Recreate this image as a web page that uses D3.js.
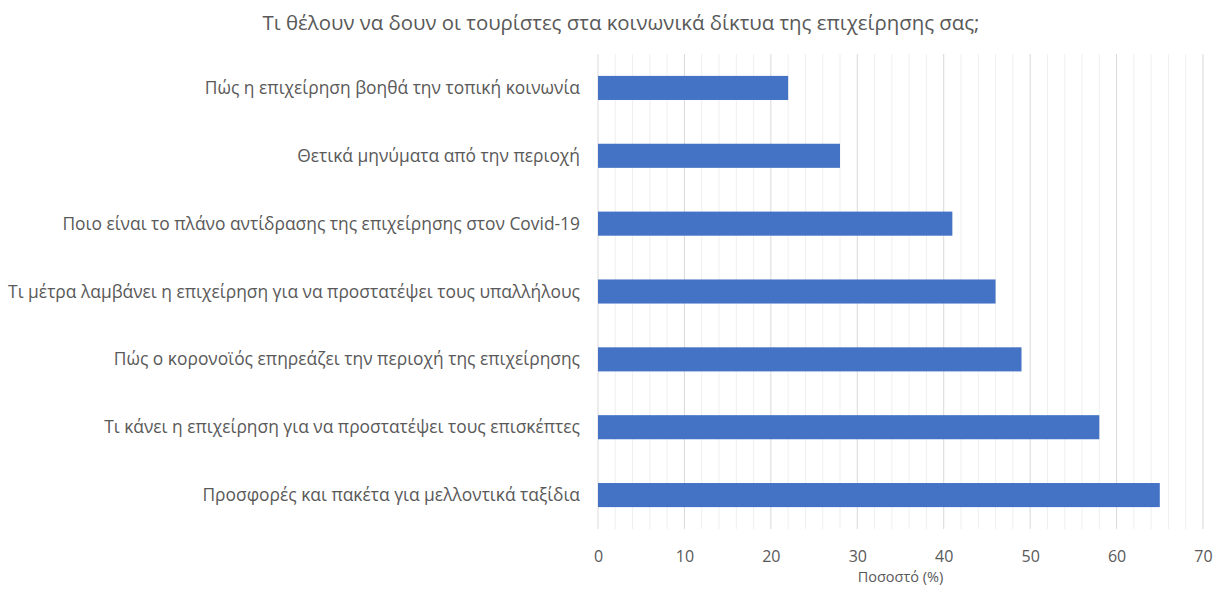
<!DOCTYPE html>
<html>
<head>
<meta charset="utf-8">
<title>chart</title>
<script src="https://cdn.jsdelivr.net/npm/d3@7"></script>
<style>
  body { margin: 0; background: #fff; }
  text { font-family: "Open Sans", "Noto Sans", sans-serif; }
</style>
</head>
<body>
<script>
  const width = 1231;
  const height = 596;

  const categories = [
    "Πώς η επιχείρηση βοηθά την τοπική κοινωνία",
    "Θετικά μηνύματα από την περιοχή",
    "Ποιο είναι το πλάνο αντίδρασης της επιχείρησης στον Covid-19",
    "Τι μέτρα λαμβάνει η επιχείρηση για να προστατέψει τους υπαλλήλους",
    "Πώς ο κορονοϊός επηρεάζει την περιοχή της επιχείρησης",
    "Τι κάνει η επιχείρηση για να προστατέψει τους επισκέπτες",
    "Προσφορές και πακέτα για μελλοντικά ταξίδια"
  ];
  const values = [22, 28, 41, 46, 49, 58, 65];
  const majorTicks = [0, 10, 20, 30, 40, 50, 60, 70];
  const minorTicks = d3.range(0, 71, 2);

  const title = "Τι θέλουν να δουν οι τουρίστες στα κοινωνικά δίκτυα της επιχείρησης σας;";
  const xTitle = "Ποσοστό (%)";

  const margin = { top: 54, right: 28, bottom: 67, left: 598 };

  const x = d3.scaleLinear()
    .domain([0, 70])
    .range([margin.left, width - margin.right]);

  const y = d3.scaleBand()
    .domain(categories)
    .range([margin.top, height - margin.bottom])
    .paddingInner(0.645)
    .paddingOuter(0.3225);

  const svg = d3.select("body").append("svg")
    .attr("width", width)
    .attr("height", height);

  // minor grid
  svg.append("g")
    .selectAll("line")
    .data(minorTicks.filter(d => d % 10 !== 0))
    .join("line")
    .attr("x1", d => x(d)).attr("x2", d => x(d))
    .attr("y1", margin.top).attr("y2", height - margin.bottom)
    .attr("stroke", "#efefef")
    .attr("stroke-width", 1);

  // major grid
  svg.append("g")
    .selectAll("line")
    .data(majorTicks)
    .join("line")
    .attr("x1", d => x(d)).attr("x2", d => x(d))
    .attr("y1", margin.top).attr("y2", height - margin.bottom)
    .attr("stroke", "#d9d9d9")
    .attr("stroke-width", 1);

  // bars
  svg.append("g")
    .selectAll("rect")
    .data(values)
    .join("rect")
    .attr("x", x(0))
    .attr("y", (d, i) => y(categories[i]))
    .attr("width", d => x(d) - x(0))
    .attr("height", y.bandwidth())
    .attr("fill", "#4472c4");

  // category labels
  svg.append("g")
    .selectAll("text")
    .data(categories)
    .join("text")
    .attr("x", margin.left - 18)
    .attr("y", d => y(d) + y.bandwidth() / 2)
    .attr("dy", "0.35em")
    .attr("text-anchor", "end")
    .attr("font-size", 17.4)
    .attr("fill", "#595959")
    .text(d => d);

  // x axis labels
  const xAxis = d3.axisBottom(x)
    .tickValues(majorTicks)
    .tickSize(0)
    .tickPadding(22);
  const gx = svg.append("g")
    .attr("transform", `translate(0,${height - margin.bottom})`)
    .call(xAxis);
  gx.select(".domain").remove();
  gx.selectAll("text")
    .attr("font-size", 16)
    .attr("font-family", "Liberation Sans, Arial, sans-serif")
    .attr("fill", "#595959");

  svg.append("text")
    .attr("x", (x(0) + x(70)) / 2)
    .attr("y", 582)
    .attr("text-anchor", "middle")
    .attr("font-size", 14.5)
    .attr("fill", "#595959")
    .text(xTitle);

  svg.append("text")
    .attr("x", 621)
    .attr("y", 30)
    .attr("text-anchor", "middle")
    .attr("font-size", 20.4)
    .attr("fill", "#595959")
    .text(title);
</script>
</body>
</html>
